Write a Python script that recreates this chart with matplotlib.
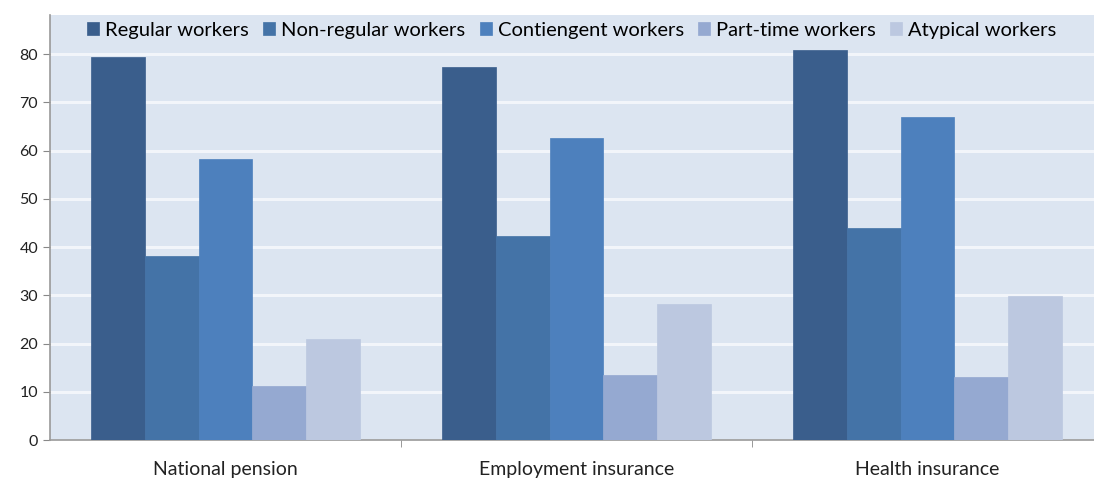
import matplotlib.pyplot as plt
import numpy as np

plt.rcParams['font.family'] = ['Lato', 'DejaVu Sans']

categories = ['National pension', 'Employment insurance', 'Health insurance']
series = ['Regular workers', 'Non-regular workers', 'Contiengent workers',
          'Part-time workers', 'Atypical workers']
regular = [79.3, 77.3, 80.8]
non_regular = [38.1, 42.3, 43.9]
contingent = [58.2, 62.6, 66.9]
part_time = [11.2, 13.5, 13.1]
atypical = [20.9, 28.2, 29.8]
values = [regular, non_regular, contingent, part_time, atypical]
colors = ['#3a5e8c', '#4473a7', '#4d80bd', '#95a9d1', '#bcc8e0']

x = np.arange(len(categories))
width = 0.153

fig = plt.figure(figsize=(10.94, 4.8), dpi=100)
ax = fig.add_axes([50 / 1094, 40 / 480, 1044 / 1094, 425 / 480])
ax.set_facecolor('#dce5f1')

for i, (name, vals) in enumerate(zip(series, values)):
    ax.bar(x + (i - 2) * width, vals, width, label=name, color=colors[i],
           edgecolor=colors[i], linewidth=0.5, zorder=3)

ax.set_ylim(0, 88.1)
ax.set_xlim(-0.5, -0.5 + 1044 / 351)
ax.set_yticks(np.arange(0, 81, 10))
ax.yaxis.grid(True, color='#f2f5fa', linewidth=2.2, zorder=0)
ax.set_axisbelow(True)

ax.set_xticks(x)
ax.set_xticklabels(categories, fontsize=14, color='#222222')
ax.set_xticks([0.5, 1.5], minor=True)
ax.tick_params(axis='x', which='major', length=0, pad=15)
ax.tick_params(axis='x', which='minor', length=5, color='#888888', direction='out')
ax.tick_params(axis='y', length=5, color='#888888', labelsize=11.5, labelcolor='#222222')

for s in ['top', 'right']:
    ax.spines[s].set_visible(False)
for s in ['left', 'bottom']:
    ax.spines[s].set_color('#999999')
    ax.spines[s].set_linewidth(1.2)

ax.legend(loc='upper left', bbox_to_anchor=(0.028, 1.003), ncol=5, frameon=False,
          fontsize=14.5, handlelength=0.6, handleheight=0.6, handletextpad=0.3,
          columnspacing=0.7, borderaxespad=0)

plt.savefig('out.png', dpi=100)
